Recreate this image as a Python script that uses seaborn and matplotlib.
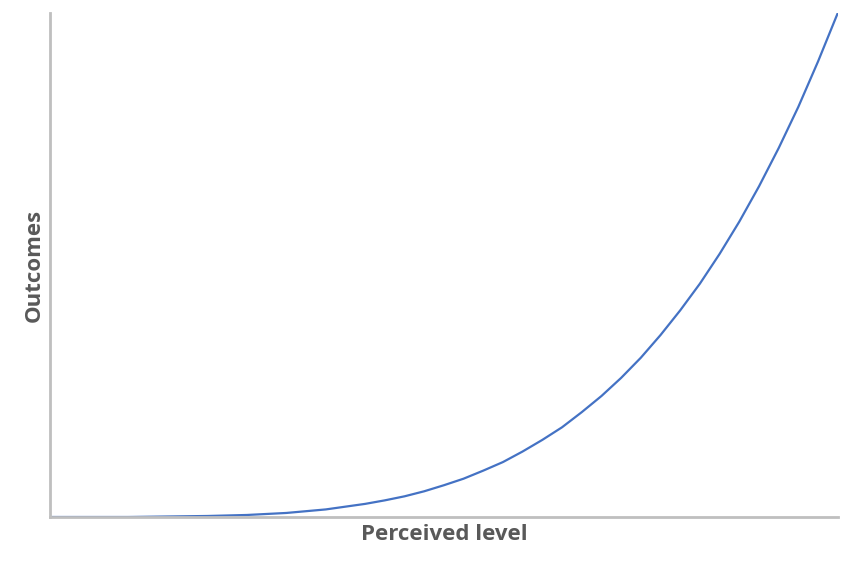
import pandas as pd
import seaborn as sns
import matplotlib.pyplot as plt

# Valores (escala 0-100 en ambos ejes)
nivel = [0, 5, 10, 15, 20, 25, 30, 35, 40, 42.5, 45, 47.5, 50, 52.5, 55, 57.5,
         60, 62.5, 65, 67.5, 70, 72.5, 75, 77.5, 80, 82.5, 85, 87.5, 90, 92.5,
         95, 97.5, 100]
resultado = [0, 0.0, 0.0, 0.1, 0.2, 0.4, 0.8, 1.5, 2.6, 3.3, 4.1, 5.1, 6.3, 7.6, 9.2, 10.9,
             13.0, 15.3, 17.8, 20.8, 24.0, 27.6, 31.6, 36.1, 41.0, 46.3, 52.2, 58.6, 65.6, 73.2,
             81.4, 90.4, 100]

df = pd.DataFrame({"nivel": nivel, "resultado": resultado})

sns.set_style("white")
plt.rcParams["font.family"] = ["Open Sans", "DejaVu Sans"]

fig = plt.figure(figsize=(8.54, 5.68), dpi=100)
ax = fig.add_axes([0.0585, 0.0898, 0.9225, 0.8873])

sns.lineplot(x="nivel", y="resultado", data=df, color="#4472C4", linewidth=1.6, ax=ax)

ax.set_xlim(0, 100)
ax.set_ylim(0, 100)
ax.set_xticks([])
ax.set_yticks([])

for lado in ["top", "right"]:
    ax.spines[lado].set_visible(False)
for lado in ["left", "bottom"]:
    ax.spines[lado].set_color("#BFBFBF")
    ax.spines[lado].set_linewidth(2)

ax.set_xlabel("Perceived level", fontsize=16, fontweight="bold", color="#595959", labelpad=5)
ax.set_ylabel("Outcomes", fontsize=16, fontweight="bold", color="#595959", labelpad=4)

fig.savefig("out.png", dpi=100)
